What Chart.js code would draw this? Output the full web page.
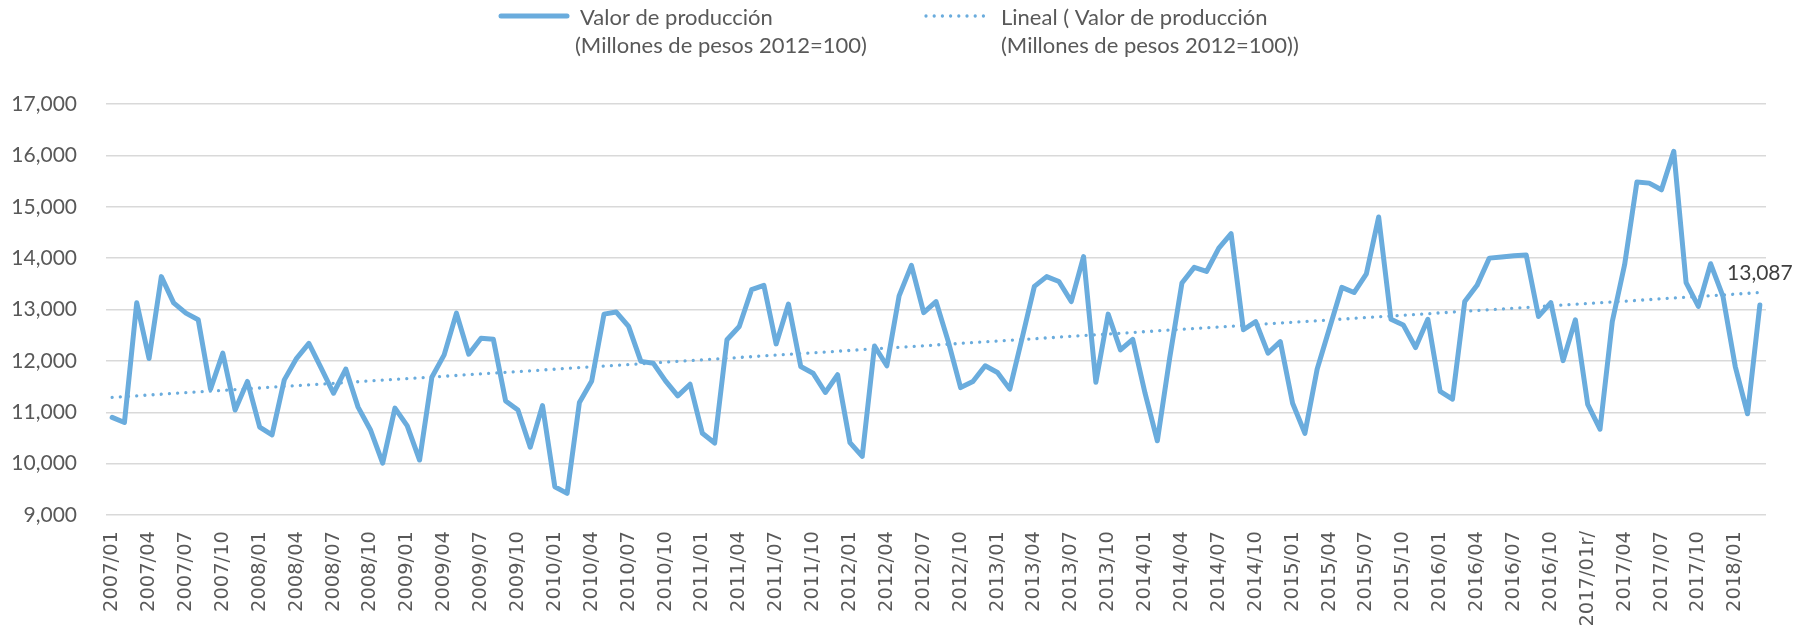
<!DOCTYPE html>
<html lang="es">
<head>
<meta charset="UTF-8">
<title>Valor de producción</title>
<script src="https://cdn.jsdelivr.net/npm/chart.js"></script>
<style>
  html, body { margin: 0; padding: 0; background: #fff; }
  #wrap { width: 1810px; height: 633px; }
</style>
</head>
<body>
<div id="wrap"><canvas id="chart" width="1810" height="633"></canvas></div>
<script>
// categories (monthly, 2007/01 - 2018/03)
const months = [
  '2007/01','2007/02','2007/03','2007/04','2007/05','2007/06','2007/07','2007/08','2007/09','2007/10','2007/11','2007/12',
  '2008/01','2008/02','2008/03','2008/04','2008/05','2008/06','2008/07','2008/08','2008/09','2008/10','2008/11','2008/12',
  '2009/01','2009/02','2009/03','2009/04','2009/05','2009/06','2009/07','2009/08','2009/09','2009/10','2009/11','2009/12',
  '2010/01','2010/02','2010/03','2010/04','2010/05','2010/06','2010/07','2010/08','2010/09','2010/10','2010/11','2010/12',
  '2011/01','2011/02','2011/03','2011/04','2011/05','2011/06','2011/07','2011/08','2011/09','2011/10','2011/11','2011/12',
  '2012/01','2012/02','2012/03','2012/04','2012/05','2012/06','2012/07','2012/08','2012/09','2012/10','2012/11','2012/12',
  '2013/01','2013/02','2013/03','2013/04','2013/05','2013/06','2013/07','2013/08','2013/09','2013/10','2013/11','2013/12',
  '2014/01','2014/02','2014/03','2014/04','2014/05','2014/06','2014/07','2014/08','2014/09','2014/10','2014/11','2014/12',
  '2015/01','2015/02','2015/03','2015/04','2015/05','2015/06','2015/07','2015/08','2015/09','2015/10','2015/11','2015/12',
  '2016/01','2016/02','2016/03','2016/04','2016/05','2016/06','2016/07','2016/08','2016/09','2016/10','2016/11','2016/12',
  '2017/01r/','2017/02','2017/03','2017/04','2017/05','2017/06','2017/07','2017/08','2017/09','2017/10','2017/11','2017/12',
  '2018/01','2018/02','2018/03'
];

// Valor de producción (millones de pesos 2012=100)
const produccion = [
  10900, 10800, 13130, 12045, 13640, 13130, 12930, 12800, 11450, 12150,
  11045, 11600, 10710, 10560, 11630, 12050, 12340, 11860, 11370, 11840,
  11100, 10660, 10010, 11080, 10735, 10070, 11680, 12117, 12930, 12130,
  12440, 12420, 11220, 11045, 10320, 11130,  9550,  9420, 11190, 11610,
  12910, 12950, 12670, 11990, 11955, 11610, 11320, 11545, 10590, 10400,
  12410, 12670, 13385, 13470, 12330, 13105, 11890, 11760, 11385, 11730,
  10410, 10140, 12290, 11905, 13265, 13860, 12940, 13155, 12375, 11480,
  11600, 11905, 11775, 11450, 12440, 13450, 13640, 13545, 13155, 14030,
  11585, 12910, 12215, 12420, 11370, 10445, 12050, 13515, 13820, 13740,
  14195, 14475, 12605, 12765, 12150, 12375, 11175, 10590, 11840, 12635,
  13430, 13330, 13695, 14800, 12810, 12700, 12260, 12810, 11405, 11255,
  13155, 13470, 14000, 14020, 14045, 14060, 12865, 13135, 12005, 12800,
  11155, 10670, 12765, 13870, 15480, 15460, 15330, 16080, 13525, 13060,
  13890, 13255, 11890, 10970, 13087
];

// linear trend, value at first and last month
const trendEnds = [11290, 13330];

const yMin = 9000;
const yMax = 17000;
const yStep = 1000;

const serieName = ['Valor de producción', '(Millones de pesos 2012=100)'];
const trendName = ['Lineal ( Valor de producción', '(Millones de pesos 2012=100))'];

const blue = '#6aacdd';
const textGrey = '#595959';

const tendencia = months.map((m, i) => {
    if (i === 0) return trendEnds[0];
    if (i === months.length - 1) return trendEnds[1];
    return null;
});

// legend drawn by hand (two-line entries)
const legendPlugin = {
    id: 'twoLineLegend',
    afterDraw(chart) {
        const ctx = chart.ctx;
        ctx.save();
        ctx.lineCap = 'round';
        ctx.strokeStyle = blue;

        ctx.lineWidth = 5;
        ctx.beginPath();
        ctx.moveTo(501, 16);
        ctx.lineTo(567, 16);
        ctx.stroke();

        ctx.lineWidth = 3.3;
        ctx.setLineDash([0.001, 8.2]);
        ctx.beginPath();
        ctx.moveTo(926, 16);
        ctx.lineTo(990, 16);
        ctx.stroke();
        ctx.setLineDash([]);

        ctx.fillStyle = textGrey;
        ctx.font = '22px Lato';
        ctx.textBaseline = 'middle';
        ctx.textAlign = 'left';
        ctx.fillText(serieName[0], 580, 18);
        ctx.fillText(serieName[1], 575, 46);
        ctx.fillText(trendName[0], 1001, 18);
        ctx.fillText(trendName[1], 1001, 46);
        ctx.restore();
    }
};

// value label on the last point
const lastLabelPlugin = {
    id: 'lastLabel',
    afterDatasetsDraw(chart) {
        const meta = chart.getDatasetMeta(0);
        const pt = meta.data[meta.data.length - 1];
        const v = produccion[produccion.length - 1];
        const ctx = chart.ctx;
        ctx.save();
        ctx.fillStyle = '#404040';
        ctx.font = '21px Lato';
        ctx.textAlign = 'center';
        ctx.textBaseline = 'middle';
        ctx.fillText(v.toLocaleString('en-US'), pt.x, pt.y - 32);
        ctx.restore();
    }
};

function draw() {
    new Chart(document.getElementById('chart'), {
        type: 'line',
        data: {
            labels: months,
            datasets: [{
                label: serieName.join(' '),
                data: produccion,
                borderColor: blue,
                backgroundColor: blue,
                borderWidth: 5,
                borderJoinStyle: 'round',
                borderCapStyle: 'round',
                pointRadius: 0,
                tension: 0,
                fill: false
            }, {
                label: trendName.join(' '),
                data: tendencia,
                borderColor: blue,
                borderWidth: 3.3,
                borderDash: [0.001, 8.2],
                borderCapStyle: 'round',
                pointRadius: 0,
                spanGaps: true,
                fill: false
            }]
        },
        options: {
            responsive: false,
            animation: false,
            devicePixelRatio: 1,
            layout: { padding: { top: 104, right: 44, left: 0, bottom: 0 } },
            plugins: {
                legend: { display: false },
                tooltip: { enabled: false }
            },
            scales: {
                x: {
                    offset: true,
                    grid: { display: false, drawTicks: false },
                    border: { display: false },
                    ticks: {
                        autoSkip: false,
                        minRotation: 90,
                        maxRotation: 90,
                        padding: 16,
                        color: textGrey,
                        font: { family: 'DejaVu Sans', size: 19.5 },
                        callback: function (val, i) {
                            return i % 3 === 0 ? this.getLabelForValue(val) : '';
                        }
                    },
                    afterFit: s => { s.height = 118; }
                },
                y: {
                    min: yMin,
                    max: yMax,
                    grid: { color: '#d9d9d9', lineWidth: 1.5, drawTicks: false },
                    border: { display: false },
                    ticks: {
                        stepSize: yStep,
                        padding: 29,
                        color: textGrey,
                        font: { family: 'Lato', size: 21 },
                        callback: v => v.toLocaleString('en-US')
                    },
                    afterFit: s => { s.width = 106; }
                }
            }
        },
        plugins: [legendPlugin, lastLabelPlugin]
    });
}

Promise.all([
    document.fonts.load('22px Lato'),
    document.fonts.load('19.5px "DejaVu Sans"')
]).then(draw, draw);
</script>
</body>
</html>
